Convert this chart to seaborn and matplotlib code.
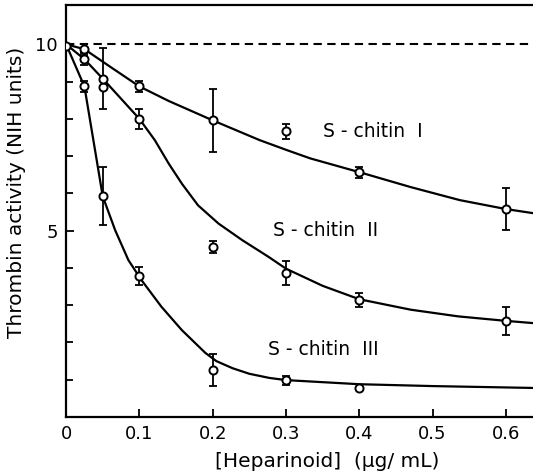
import numpy as np
import pandas as pd
import matplotlib
matplotlib.use("Agg")
import matplotlib.pyplot as plt
import seaborn as sns
from matplotlib.ticker import FixedLocator

# ---- measured points (x = heparinoid ug/mL, y = thrombin activity) ----
x_I = [0.0, 0.025, 0.05, 0.1, 0.2, 0.3, 0.4, 0.6]
y_I = [9.95, 9.87, 8.85, 8.87, 7.96, 7.67, 6.57, 5.58]
e_I = [0.0, 0.15, 0.0, 0.15, 0.85, 0.2, 0.15, 0.57]

x_II = [0.025, 0.05, 0.1, 0.2, 0.3, 0.4, 0.6]
y_II = [9.6, 9.08, 8.0, 4.56, 3.86, 3.14, 2.57]
e_II = [0.16, 0.82, 0.27, 0.15, 0.32, 0.2, 0.37]

x_III = [0.025, 0.05, 0.1, 0.2, 0.3, 0.4]
y_III = [8.87, 5.92, 3.78, 1.26, 0.99, 0.78]
e_III = [0.15, 0.78, 0.25, 0.42, 0.12, 0.0]

# ---- fitted curves ----
cx_I = [0, 0.025, 0.06, 0.1, 0.14, 0.2, 0.264, 0.3, 0.333, 0.4, 0.47, 0.537, 0.6, 0.637]
cy_I = [10, 9.87, 9.4, 8.87, 8.48, 7.96, 7.43, 7.17, 6.94, 6.57, 6.17, 5.82, 5.58, 5.47]

cx_II = [0, 0.025, 0.05, 0.1, 0.121, 0.14, 0.158, 0.18, 0.208, 0.24, 0.276, 0.3,
         0.35, 0.4, 0.47, 0.535, 0.6, 0.637]
cy_II = [10, 9.6, 9.08, 8.0, 7.43, 6.8, 6.26, 5.68, 5.19, 4.75, 4.3, 3.98,
         3.52, 3.16, 2.88, 2.7, 2.58, 2.52]

cx_III = [0, 0.025, 0.05, 0.067, 0.085, 0.103, 0.13, 0.158, 0.19, 0.205, 0.227,
          0.25, 0.277, 0.3, 0.4, 0.5, 0.637]
cy_III = [10, 8.87, 5.92, 5.01, 4.21, 3.67, 2.96, 2.33, 1.72, 1.5, 1.31,
          1.16, 1.05, 0.99, 0.88, 0.83, 0.78]

control_level = 10
series_labels = ["S - chitin  I", "S - chitin  II", "S - chitin  III"]
label_pos = [(0.351, 7.67), (0.282, 5.0), (0.276, 1.8)]

x_ticks = [0, 0.1, 0.2, 0.3, 0.4, 0.5, 0.6]
x_ticklabels = ["0", "0.1", "0.2", "0.3", "0.4", "0.5", "0.6"]
y_major = [5, 10]
y_minor = [1, 2, 3, 4, 6, 7, 8, 9]

sns.set_style("ticks", {"axes.edgecolor": "black", "text.color": "black",
                        "xtick.color": "black", "ytick.color": "black",
                        "axes.labelcolor": "black"})
plt.rcParams["font.family"] = ["DejaVu Sans"]

fig = plt.figure(figsize=(5.33, 4.72), dpi=100)
ax = fig.add_axes([0.124, 0.1165, 0.876, 0.8725])

curves = pd.concat([
    pd.DataFrame({"x": cx_I, "y": cy_I, "s": "I"}),
    pd.DataFrame({"x": cx_II, "y": cy_II, "s": "II"}),
    pd.DataFrame({"x": cx_III, "y": cy_III, "s": "III"}),
])
sns.lineplot(data=curves, x="x", y="y", units="s", estimator=None, color="black",
             lw=1.6, ax=ax, legend=False, sort=False)

ax.axhline(control_level, color="black", lw=1.5, ls=(0, (4, 2.6)), zorder=1)

for xs, ys, es in [(x_I, y_I, e_I), (x_II, y_II, e_II), (x_III, y_III, e_III)]:
    ax.errorbar(xs, ys, yerr=es, fmt="none", ecolor="black", elinewidth=1.3,
                capsize=2.6, capthick=1.3, zorder=3)
    pts = pd.DataFrame({"x": xs, "y": ys})
    sns.scatterplot(data=pts, x="x", y="y", ax=ax, marker="o", s=34,
                    facecolor="white", edgecolor="black", linewidth=1.4, zorder=4)

for txt, (tx, ty) in zip(series_labels, label_pos):
    ax.text(tx, ty, txt, fontsize=13.5, va="center", ha="left", color="black")

ax.set_xlim(0, 0.637)
ax.set_ylim(0, 11.05)
ax.set_xticks(x_ticks)
ax.set_xticklabels(x_ticklabels)
ax.yaxis.set_major_locator(FixedLocator(y_major))
ax.yaxis.set_minor_locator(FixedLocator(y_minor))
ax.tick_params(axis="both", which="both", direction="in", width=1.3, color="black")
ax.tick_params(axis="both", which="major", length=6, labelsize=13, pad=6,
               labelcolor="black")
ax.tick_params(axis="y", which="minor", length=5)

for s in ["left", "bottom", "top"]:
    ax.spines[s].set_linewidth(1.6)
    ax.spines[s].set_color("black")
ax.spines["right"].set_visible(False)

ax.set_xlabel("[Heparinoid]  (μg/ mL)", fontsize=14.5, color="black")
ax.xaxis.set_label_coords(0.56, -0.085)
ax.set_ylabel("Thrombin activity (NIH units)", fontsize=14.5, color="black")
ax.yaxis.set_label_coords(-0.085, 0.545)

fig.savefig("out.png", dpi=100)
